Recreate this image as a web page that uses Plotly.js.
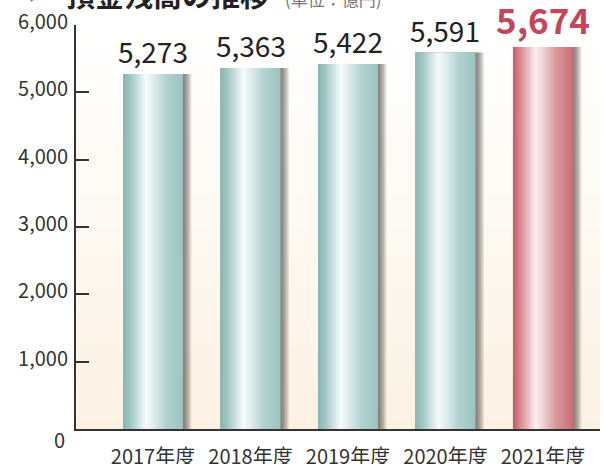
<!DOCTYPE html>
<html>
<head>
<meta charset="utf-8">
<script src="https://cdn.plot.ly/plotly-3.0.1.min.js"></script>
<style>html,body{margin:0;padding:0;background:#fff;}#chart{width:604px;height:464px;}</style>
</head>
<body>
<div id="chart"></div>
<script>
// ---- data ----
const categories = ['2017年度', '2018年度', '2019年度', '2020年度', '2021年度'];
const values = [5273, 5363, 5422, 5591, 5674];
const valueLabels = ['5,273', '5,363', '5,422', '5,591', '5,674'];
const yTickVals = [1000, 2000, 3000, 4000, 5000, 6000];
const yTickText = ['1,000', '2,000', '3,000', '4,000', '5,000', '6,000'];
const highlightIndex = 4;
const titleText = '預金残高の推移';
const unitText = '(単位：億円)';

// ---- style ----
const FONT = '"Noto Sans CJK JP", "Noto Sans", sans-serif';
const W = 604, H = 464;
const M = {l: 76, r: 4, t: 25, b: 35};
const plotW = W - M.l - M.r, plotH = H - M.t - M.b;
const xRange = [-0.79, 4.585];
const unitPx = plotW / (xRange[1] - xRange[0]);
const barW = 60 / unitPx;

function hex(c){return [parseInt(c.slice(1,3),16),parseInt(c.slice(3,5),16),parseInt(c.slice(5,7),16)];}
function lerpStops(stops, t){
  for (let i = 0; i < stops.length - 1; i++) {
    const a = stops[i], b = stops[i+1];
    if (t >= a[0] && t <= b[0]) {
      const f = (t - a[0]) / (b[0] - a[0] || 1);
      const ca = hex(a[1]), cb = hex(b[1]);
      return 'rgb(' + ca.map((v,k)=>Math.round(v + (cb[k]-v)*f)).join(',') + ')';
    }
  }
  return stops[stops.length-1][1];
}
const tealStops = [[0,'#88b6b4'],[0.12,'#9fc6c4'],[0.38,'#f6fbfb'],[0.5,'#e0eeed'],[0.72,'#b2d2d0'],[1,'#9cc3c1']];
const redStops  = [[0,'#c45c69'],[0.12,'#d68890'],[0.38,'#faf0f0'],[0.5,'#efd3d5'],[0.72,'#d9979c'],[1,'#ca6d75']];

const traces = [];
// shadow to the right of each bar
const SH = 7;
for (let k = SH; k >= 1; k--) {
  traces.push({
    type: 'bar', x: categories, y: values,
    offset: -barW/2, width: barW + k * 1.2 / unitPx,
    marker: {color: 'rgba(70,60,55,0.13)', line: {width: 0}},
    hoverinfo: 'skip', showlegend: false
  });
}
// gradient slices
const N = 30;
for (let i = 0; i < N; i++) {
  const t = (i + 0.5) / N;
  const step = barW / N;
  const cols = categories.map((c, j) => lerpStops(j === highlightIndex ? redStops : tealStops, t));
  traces.push({
    type: 'bar', x: categories, y: values,
    offset: -barW/2 + i * step,
    width: i === N - 1 ? step : step * 1.6,
    marker: {color: cols, line: {width: 0}},
    hoverinfo: 'skip', showlegend: false
  });
}

// background bands
const shapes = [];
const NB = 40;
const bgTop = hex('#ffffff'), bgBot = hex('#fcf2e4');
for (let i = 0; i < NB; i++) {
  const f = i / (NB - 1);
  const c = bgBot.map((v,k)=>Math.round(v + (bgTop[k]-v)*f));
  shapes.push({type:'rect', xref:'paper', yref:'paper', x0:0, x1:1, y0:i/NB, y1:(i+1)/NB + 0.002,
    fillcolor:'rgb(' + c.join(',') + ')', line:{width:0}, layer:'below'});
}

const annotations = valueLabels.map((txt, j) => ({
  x: categories[j], y: values[j], xref: 'x', yref: 'y',
  text: txt, showarrow: false, yanchor: 'bottom', yshift: 1,
  font: j === highlightIndex
    ? {family: FONT, size: 35, color: '#c4465a', weight: 700}
    : {family: FONT, size: 28, color: '#222', weight: 400}
}));
// zero label
annotations.push({x: 0, y: 0, xref: 'paper', yref: 'y', text: '0', showarrow: false,
  xanchor: 'right', xshift: -9, yshift: -10, font: {family: FONT, size: 20, color: '#333'}});
// cut-off title
function py(px){return (H - M.b - px) / plotH;}
function pxx(px){return (px - M.l) / plotW;}
annotations.push({x: pxx(26), y: py(-8), xref:'paper', yref:'paper', text:'▶', showarrow:false,
  xanchor:'left', yanchor:'middle', font:{family: FONT, size: 20, color:'#1b9a8e'}});
annotations.push({x: pxx(64), y: py(-6), xref:'paper', yref:'paper', text: titleText, showarrow:false,
  xanchor:'left', yanchor:'middle', font:{family: FONT, size: 29, color:'#222', weight: 700}});
annotations.push({x: pxx(283), y: py(-1), xref:'paper', yref:'paper', text: unitText, showarrow:false,
  xanchor:'left', yanchor:'middle', font:{family: FONT, size: 17, color:'#777'}});

const layout = {
  width: W, height: H, margin: M,
  paper_bgcolor: '#ffffff', plot_bgcolor: '#ffffff',
  barmode: 'overlay', showlegend: false,
  xaxis: {
    type: 'category', range: xRange, showgrid: false, zeroline: false,
    showline: true, linecolor: '#333', linewidth: 2, ticks: '',
    ticklabelstandoff: 9,
    tickfont: {family: FONT, size: 20, color: '#333'}, fixedrange: true
  },
  yaxis: {
    range: [0, 6000], showgrid: false, zeroline: false,
    showline: true, linecolor: '#333', linewidth: 2,
    ticks: 'inside', ticklen: 13, tickwidth: 2, tickcolor: '#333',
    tickvals: yTickVals, ticktext: yTickText,
    ticklabelstandoff: 2, ticklabelshift: -3,
    tickfont: {family: FONT, size: 20, color: '#333'}, fixedrange: true
  },
  shapes: shapes,
  annotations: annotations
};

Plotly.newPlot('chart', traces, layout, {displayModeBar: false, staticPlot: true});
</script>
</body>
</html>
